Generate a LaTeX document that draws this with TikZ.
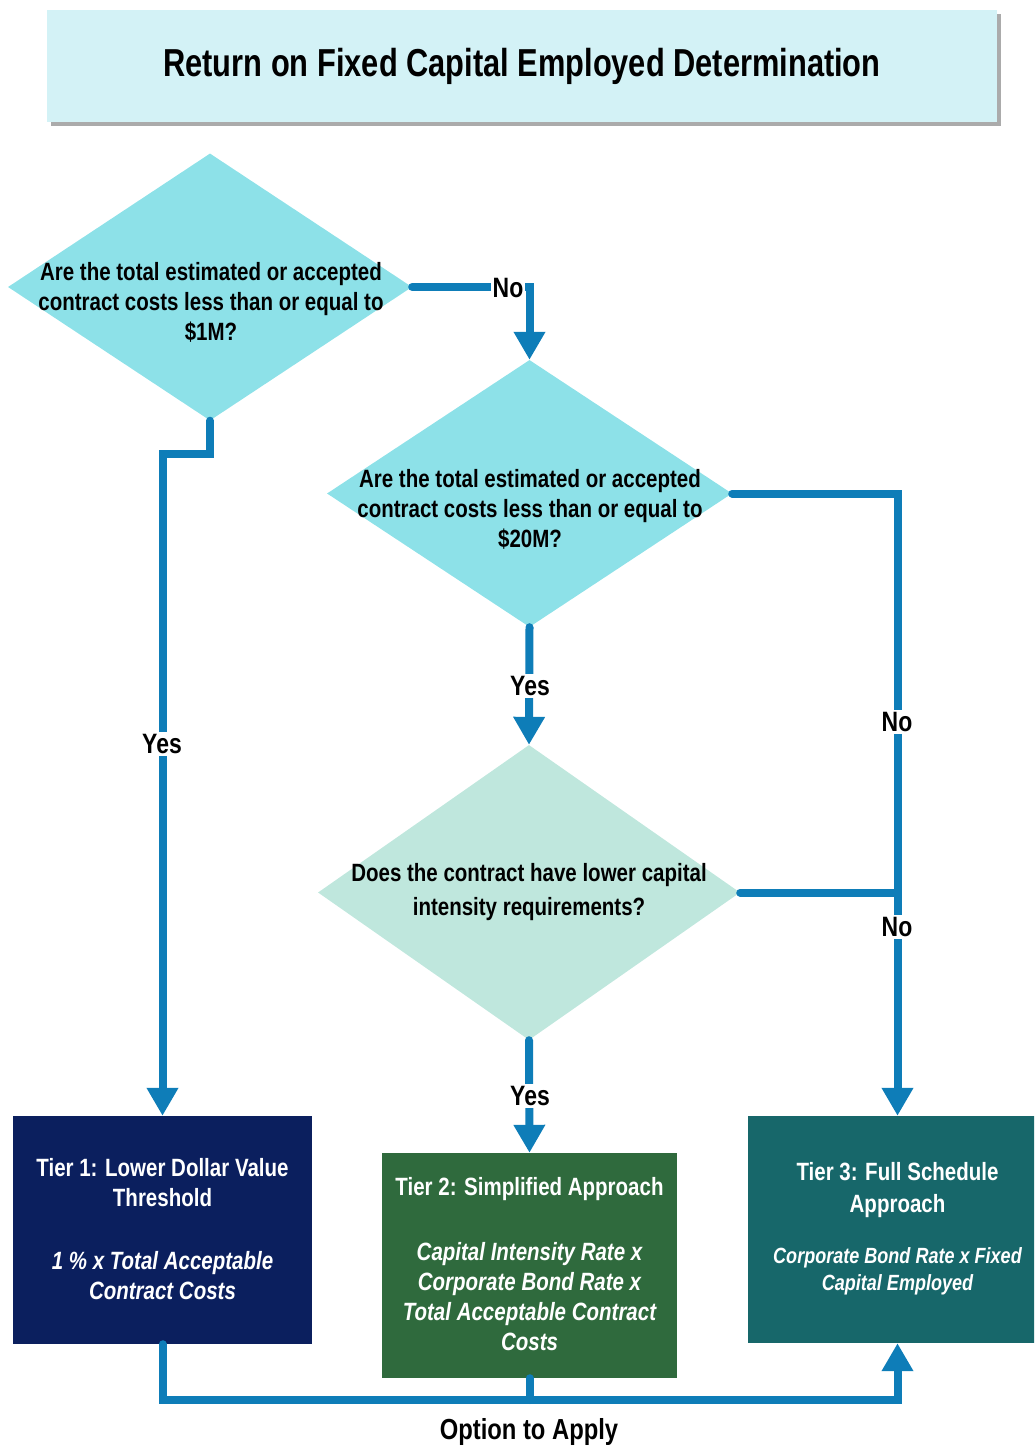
\documentclass[tikz,border=0pt]{standalone}
\usepackage{fontspec}
\setmainfont{Liberation Sans}[FakeStretch=0.82]
\newfontfamily\headingfont{Liberation Sans}[FakeStretch=0.79]
\usetikzlibrary{shapes.geometric,arrows.meta,shadows}
\definecolor{titlefill}{HTML}{D3F2F6}
\definecolor{qfill}{HTML}{8DE1E8}
\definecolor{qfillb}{HTML}{BFE7DD}
\definecolor{flowblue}{HTML}{0E7DB8}
\definecolor{tierone}{HTML}{0B1F5E}
\definecolor{tiertwo}{HTML}{2F6A3D}
\definecolor{tierthree}{HTML}{17676A}
\begin{document}
\begin{tikzpicture}[x=1pt,y=-1pt,
  question/.style={diamond, draw=none, inner sep=0pt},
  qtext/.style={align=center, inner sep=0pt, font=\fontsize{25}{30}\selectfont\bfseries},
  tierbox/.style={rectangle, draw=none, inner sep=0pt},
  tierhead/.style={align=center, inner sep=0pt, text=white, font=\fontsize{25}{30}\selectfont\bfseries},
  tierformula/.style={align=center, inner sep=0pt, text=white, font=\fontsize{25}{30}\selectfont\bfseries\itshape},
  lbl/.style={fill=white, inner sep=2pt, font=\fontsize{28}{30}\selectfont\bfseries},
  flowline/.style={draw=flowblue, line width=8pt, line cap=round, line join=miter},
  flow/.style={flowline, -{Triangle[width=30pt,length=28pt]}}
]
\useasboundingbox (0,0) rectangle (1034,1447);
\clip (0,0) rectangle (1034,1447);

% heading
\node[rectangle, fill=titlefill, minimum width=950pt, minimum height=112pt, inner sep=0pt,
      drop shadow={shadow xshift=4pt, shadow yshift=-4pt, opacity=0.55, fill=black!60},
      font=\headingfont\fontsize{39}{44}\selectfont\bfseries] (title) at (522,66) {Return on Fixed Capital Employed Determination};

% decisions
\node[question, fill=qfill, minimum width=404pt, minimum height=267pt] (d1) at (210,287) {};
\node[qtext] (d1t) at (211,302) {Are the total estimated or accepted\\contract costs less than or equal to\\\$1M?};

\node[question, fill=qfill, minimum width=405pt, minimum height=267pt] (d2) at (529.5,493.5) {};
\node[qtext] (d2t) at (530,509) {Are the total estimated or accepted\\contract costs less than or equal to\\\$20M?};

\node[question, fill=qfillb, minimum width=422pt, minimum height=295pt] (d3) at (529,892.5) {};
\node[qtext, font=\fontsize{25}{34}\selectfont\bfseries] (d3t) at (529,892) {Does the contract have lower capital\\intensity requirements?};

% outcomes
\node[tierbox, fill=tierone, minimum width=299pt, minimum height=228pt] (t1) at (162.5,1230) {};
\node[tierhead] (t1h) at (162.5,1183) {Tier 1: Lower Dollar Value\\Threshold};
\node[tierformula] (t1f) at (162.5,1275.5) {1 \% x Total Acceptable\\Contract Costs};

\node[tierbox, fill=tiertwo, minimum width=295pt, minimum height=225pt] (t2) at (529.5,1265.5) {};
\node[tierhead] (t2h) at (529.5,1189) {Tier 2: Simplified Approach};
\node[tierformula] (t2f) at (529.5,1296.5) {Capital Intensity Rate x\\Corporate Bond Rate x\\Total Acceptable Contract\\Costs};

\node[tierbox, fill=tierthree, minimum width=299pt, minimum height=227pt] (t3) at (897.5,1229.5) {};
\node[tierhead, font=\fontsize{25}{32}\selectfont\bfseries] (t3h) at (897.5,1190) {Tier 3: Full Schedule\\Approach};
\node[tierformula, font=\fontsize{22}{27}\selectfont\bfseries\itshape] (t3f) at (897.5,1271.5) {Corporate Bond Rate x Fixed\\Capital Employed};

% connectors
\draw[flow] (d1.east) -| (d2.north);
\node[lbl] (no1) at (508,288) {No};

\draw[flow] (d1.south) -- ++(0,33) -| (t1.north);
\node[lbl] (yes1) at (162,744) {Yes};

\draw[flow] (d2.south) -- (d3.north);
\node[lbl] (yes2) at (530,686) {Yes};

\draw[flow] (d2.east) -| (t3.north);
\node[lbl] (no2) at (897,722) {No};

\draw[flowline] (d3.east) -- (d3.east -| t3.north);
\node[lbl] (no3) at (897,927) {No};

\draw[flow] (d3.south) -- (t2.north);
\node[lbl] (yes3) at (530,1096) {Yes};

% option to apply
\coordinate (bus) at (529.5,1400);
\draw[flow] (t1.south) -- (t1.south |- bus) -- (t3.south |- bus) -- (t3.south);
\draw[flowline] (t2.south) -- (bus);
\node[font=\fontsize{29}{32}\selectfont\bfseries] (opt) at (529,1432) {Option to Apply};
\end{tikzpicture}
\end{document}
